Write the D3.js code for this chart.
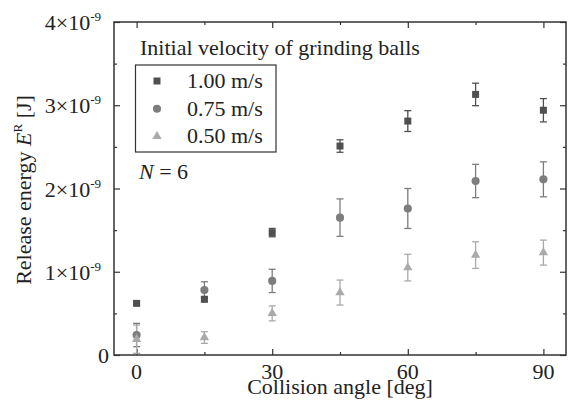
<!DOCTYPE html>
<html>
<head>
<meta charset="utf-8">
<script src="https://cdn.jsdelivr.net/npm/d3@7/dist/d3.min.js"></script>
<style>
  body { margin: 0; background: #fff; }
  svg { font-family: "Liberation Serif", "Times New Roman", serif; }
</style>
</head>
<body>
<div id="chart"></div>
<script>
// collision angle in deg, energy in units of 1e-9 J
var angles = [0, 15, 30, 45, 60, 75, 90];
var energy100 = [0.62, 0.67, 1.47, 2.51, 2.81, 3.13, 2.94];
var err100 = [0.02, 0.03, 0.05, 0.075, 0.125, 0.135, 0.14];
var energy075 = [0.24, 0.78, 0.89, 1.65, 1.76, 2.09, 2.11];
var err075 = [0.14, 0.1, 0.14, 0.225, 0.24, 0.2, 0.21];
var energy050 = [0.19, 0.21, 0.50, 0.75, 1.05, 1.20, 1.23];
var err050 = [0.17, 0.07, 0.09, 0.15, 0.16, 0.16, 0.15];
var seriesNames = ["1.00 m/s", "0.75 m/s", "0.50 m/s"];
var xTicks = [0, 30, 60, 90];
var xMinor = [15, 45, 75];
var yTicks = [0, 1, 2, 3, 4];
var yMinor = [0.5, 1.5, 2.5, 3.5];

var width = 568, height = 419;
var pLeft = 114, pRight = 566, pTop = 22, pBottom = 355;
var fs = 22;

var svg = d3.select("#chart").append("svg").attr("width", width).attr("height", height);

var x = d3.scaleLinear().domain([-5, 95]).range([pLeft, pRight]);
var y = d3.scaleLinear().domain([0, 4]).range([pBottom, pTop]);

var series = [
  {name: seriesNames[0], vals: energy100, errs: err100, color: "#505050", shape: d3.symbolSquare, size: 49},
  {name: seriesNames[1], vals: energy075, errs: err075, color: "#7d7d7d", shape: d3.symbolCircle, size: 52},
  {name: seriesNames[2], vals: energy050, errs: err050, color: "#aaaaaa", shape: d3.symbolTriangle, size: 38}
];

// frame with inward ticks on all four sides
var axisColor = "#333";
function styleAxis(g) {
  g.select(".domain").remove();
  g.selectAll("line").attr("stroke", axisColor).attr("stroke-width", 1.2);
}
svg.append("g").attr("transform", "translate(0," + pBottom + ")")
  .call(d3.axisBottom(x).tickValues(xTicks).tickSizeInner(-6).tickFormat("")).call(styleAxis);
svg.append("g").attr("transform", "translate(0," + pBottom + ")")
  .call(d3.axisBottom(x).tickValues(xMinor).tickSizeInner(-3).tickFormat("")).call(styleAxis);
svg.append("g").attr("transform", "translate(0," + pTop + ")")
  .call(d3.axisTop(x).tickValues(xTicks).tickSizeInner(-6).tickFormat("")).call(styleAxis);
svg.append("g").attr("transform", "translate(0," + pTop + ")")
  .call(d3.axisTop(x).tickValues(xMinor).tickSizeInner(-3).tickFormat("")).call(styleAxis);
svg.append("g").attr("transform", "translate(" + pLeft + ",0)")
  .call(d3.axisLeft(y).tickValues(yTicks).tickSizeInner(-6).tickFormat("")).call(styleAxis);
svg.append("g").attr("transform", "translate(" + pLeft + ",0)")
  .call(d3.axisLeft(y).tickValues(yMinor).tickSizeInner(-3).tickFormat("")).call(styleAxis);
svg.append("g").attr("transform", "translate(" + pRight + ",0)")
  .call(d3.axisRight(y).tickValues(yTicks).tickSizeInner(-6).tickFormat("")).call(styleAxis);
svg.append("g").attr("transform", "translate(" + pRight + ",0)")
  .call(d3.axisRight(y).tickValues(yMinor).tickSizeInner(-3).tickFormat("")).call(styleAxis);

svg.append("rect").attr("x", pLeft).attr("y", pTop)
  .attr("width", pRight - pLeft).attr("height", pBottom - pTop)
  .attr("fill", "none").attr("stroke", axisColor).attr("stroke-width", 1.5);

// tick labels
svg.selectAll(".xlab").data(xTicks).enter().append("text")
  .attr("x", function(d) { return x(d); }).attr("y", pBottom + 24)
  .attr("text-anchor", "middle").attr("font-size", fs).attr("fill", "#222")
  .text(function(d) { return d; });

var ylab = svg.selectAll(".ylab").data(yTicks).enter().append("text")
  .attr("x", function(d) { return d === 0 ? 109 : 101; })
  .attr("y", function(d) { return y(d) + 8; })
  .attr("text-anchor", "end").attr("font-size", fs).attr("fill", "#222");
ylab.each(function(d) {
  var t = d3.select(this);
  if (d === 0) { t.text("0"); return; }
  t.append("tspan").text(d + "×10");
  t.append("tspan").attr("font-size", 13).attr("dy", -9).text("-9");
});

// axis titles
svg.append("text").attr("x", x(45)).attr("y", 394)
  .attr("text-anchor", "middle").attr("font-size", fs).attr("fill", "#222")
  .text("Collision angle [deg]");

var yt = svg.append("text").attr("transform", "translate(31," + 190 + ") rotate(-90)")
  .attr("text-anchor", "middle").attr("font-size", fs).attr("fill", "#222");
yt.append("tspan").text("Release energy ");
yt.append("tspan").attr("font-style", "italic").text("E");
yt.append("tspan").attr("font-size", 13).attr("dy", -9).text("R");
yt.append("tspan").attr("dy", 9).text(" [J]");

// error bars then markers
var capW = 3.5;
series.forEach(function(s) {
  var g = svg.append("g");
  var pts = angles.map(function(a, i) { return {a: a, v: s.vals[i], e: s.errs[i]}; });
  var eb = g.selectAll(".eb").data(pts).enter().append("g")
    .attr("stroke", s.color).attr("stroke-width", 1.3).attr("fill", "none");
  eb.append("line").attr("x1", function(d) { return x(d.a); }).attr("x2", function(d) { return x(d.a); })
    .attr("y1", function(d) { return y(d.v - d.e); }).attr("y2", function(d) { return y(d.v + d.e); });
  eb.append("line").attr("x1", function(d) { return x(d.a) - capW; }).attr("x2", function(d) { return x(d.a) + capW; })
    .attr("y1", function(d) { return y(d.v + d.e); }).attr("y2", function(d) { return y(d.v + d.e); });
  eb.append("line").attr("x1", function(d) { return x(d.a) - capW; }).attr("x2", function(d) { return x(d.a) + capW; })
    .attr("y1", function(d) { return y(d.v - d.e); }).attr("y2", function(d) { return y(d.v - d.e); });
  s.pts = pts;
});
series.forEach(function(s) {
  svg.append("g").selectAll("path").data(s.pts).enter().append("path")
    .attr("d", d3.symbol().type(s.shape).size(s.size))
    .attr("transform", function(d) { return "translate(" + x(d.a) + "," + y(d.v) + ")"; })
    .attr("fill", s.color);
});

// legend
svg.append("text").attr("x", 140).attr("y", 55).attr("font-size", fs).attr("fill", "#222")
  .text("Initial velocity of grinding balls");
svg.append("rect").attr("x", 135.5).attr("y", 65).attr("width", 140.5).attr("height", 87)
  .attr("fill", "#fff").attr("stroke", axisColor).attr("stroke-width", 1.2);
series.forEach(function(s, i) {
  var cy = 81 + i * 27.7;
  svg.append("path").attr("d", d3.symbol().type(s.shape).size(s.size))
    .attr("transform", "translate(157," + cy + ")").attr("fill", s.color);
  svg.append("text").attr("x", 187).attr("y", cy + 7).attr("font-size", fs).attr("fill", "#222")
    .text(s.name);
});

var nt = svg.append("text").attr("x", 139).attr("y", 179).attr("font-size", fs).attr("fill", "#222");
nt.append("tspan").attr("font-style", "italic").text("N");
nt.append("tspan").text(" = 6");
</script>
</body>
</html>
